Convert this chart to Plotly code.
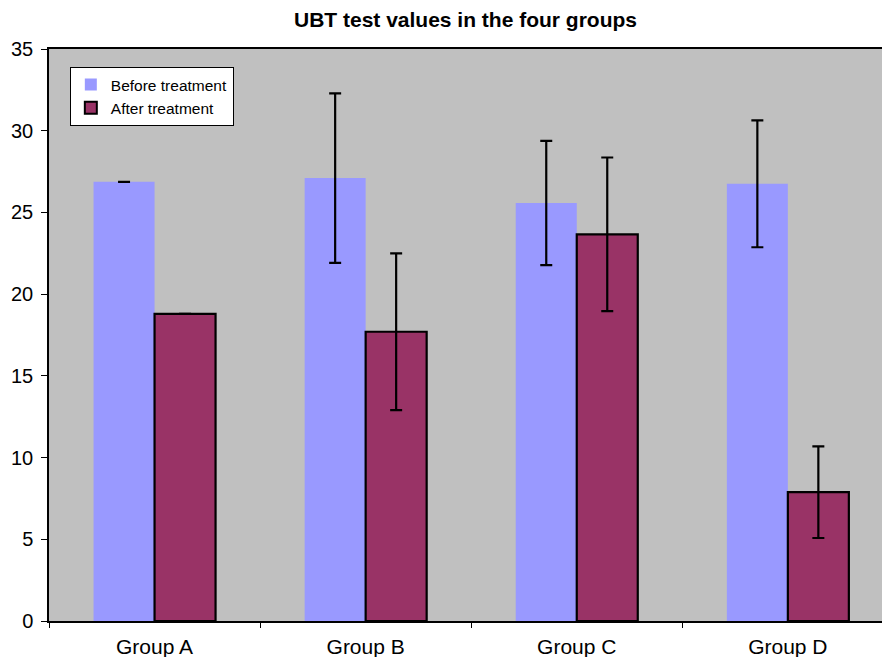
import plotly.graph_objects as go

groups = ["Group A", "Group B", "Group C", "Group D"]
before = [26.87, 27.1, 25.58, 26.75]
before_err = [0.0, 5.19, 3.8, 3.88]
after = [18.79, 17.7, 23.66, 7.88]
after_err = [0.0, 4.8, 4.7, 2.8]

fig = go.Figure()
fig.add_trace(go.Bar(
    name="Before treatment", x=groups, y=before,
    marker=dict(color="#9999FF", line=dict(width=0)),
    error_y=dict(type="data", array=before_err, visible=True,
                 color="black", thickness=2.2, width=6),
))
fig.add_trace(go.Bar(
    name="After treatment", x=groups, y=after,
    marker=dict(color="#993366", line=dict(color="black", width=2.2)),
    error_y=dict(type="data", array=after_err, visible=True,
                 color="black", thickness=2.2, width=6),
))

fig.update_layout(
    width=882, height=657,
    margin=dict(l=49, r=0, t=49, b=36),
    paper_bgcolor="white", plot_bgcolor="#C0C0C0",
    barmode="group", bargap=0.422, bargroupgap=0,
    font=dict(family="Liberation Sans, Arial, sans-serif", color="black"),
    title=dict(text="<b>UBT test values in the four groups</b>",
               x=0.5, xref="paper", xanchor="center",
               y=1 - 20 / 657, yref="container", yanchor="middle",
               font=dict(size=21, color="black")),
    legend=dict(x=0.025, y=0.9685, xanchor="left", yanchor="top",
                bgcolor="white", bordercolor="black", borderwidth=1,
                font=dict(size=15.5), tracegroupgap=0, itemsizing="constant"),
    showlegend=True,
)
fig.update_xaxes(
    range=[-0.5, 3.446], showline=True, linecolor="black", linewidth=1.5,
    mirror=True, ticks="outside", tickson="boundaries", ticklen=5,
    tickcolor="black", tickfont=dict(size=21), showgrid=False,
    ticklabelstandoff=6,
)
fig.update_yaxes(
    range=[0, 35], dtick=5, showline=True, linecolor="black", linewidth=1.5,
    ticks="outside", ticklen=6, tickcolor="black", tickfont=dict(size=20),
    showgrid=False, zeroline=False, ticklabelstandoff=4,
)

fig.write_html("out.html", config={"displayModeBar": False})

with open("out.html", "r", encoding="utf-8") as f:
    html = f.read()
html = html.replace("<head>", "<head><style>html,body{margin:0;padding:0;overflow:hidden;}</style>", 1)
with open("out.html", "w", encoding="utf-8") as f:
    f.write(html)
